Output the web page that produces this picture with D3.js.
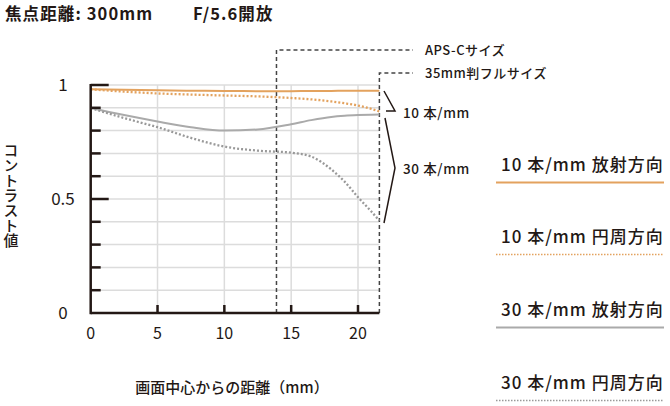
<!DOCTYPE html>
<html><head><meta charset="utf-8">
<script src="https://cdn.jsdelivr.net/npm/d3@7"></script>
<style>
html,body{margin:0;padding:0;background:#fff;}
text{font-family:"Noto Sans CJK JP","Noto Sans",sans-serif;fill:#231815;}
</style></head>
<body>
<svg id="c" width="670" height="406"></svg>
<script>
// ---- data ----
const xs   = [0, 2.5, 5, 7.5, 10, 12.5, 15, 16.5, 18, 19, 20, 21, 21.6];
const r10  = [0.981, 0.979, 0.977, 0.975, 0.974, 0.973, 0.973, 0.974, 0.974, 0.975, 0.975, 0.975, 0.975];
const t10  = [0.981, 0.971, 0.963, 0.958, 0.954, 0.950, 0.943, 0.937, 0.928, 0.920, 0.910, 0.895, 0.884];
const r30  = [0.899, 0.868, 0.840, 0.815, 0.800, 0.805, 0.828, 0.846, 0.860, 0.865, 0.868, 0.870, 0.871];
const t30  = [0.899, 0.855, 0.815, 0.768, 0.730, 0.712, 0.703, 0.686, 0.630, 0.576, 0.508, 0.445, 0.405];
const xTicks = [0, 5, 10, 15, 20];
const yMajor = [0, 0.5, 1];
const yMinor = [0.1, 0.2, 0.3, 0.4, 0.6, 0.7, 0.8, 0.9];
const yLabels = ["0", "0.5", "1"];
const apsc = 13.9, fullFrame = 21.6, xMax = 21.6;
const seriesNames = ["10 本/mm 放射方向", "10 本/mm 円周方向", "30 本/mm 放射方向", "30 本/mm 円周方向"];
const title1 = "焦点距離: 300mm", title2 = "F/5.6開放";

// ---- styles ----
const ORANGE = "#e3a25e", GRAY = "#aaaaaa", GRAYD = "#999999", DARK = "#231815";
const styles = [
  {c: ORANGE, w: 2, dash: null},
  {c: ORANGE, w: 2.3, dash: "2 2"},
  {c: GRAY, w: 2, dash: null},
  {c: GRAYD, w: 2.3, dash: "2 2"}
];

const svg = d3.select("#c");
const x = d3.scaleLinear().domain([0, 20]).range([90.7, 358]);
const y = d3.scaleLinear().domain([0, 1]).range([313, 85]);

// grid
const g = svg.append("g");
g.selectAll(".hg").data(yMinor.concat([0.5, 1])).join("line")
  .attr("x1", x(0)).attr("x2", x(xMax)).attr("y1", d => y(d)).attr("y2", d => y(d))
  .attr("stroke", "#dcdcdc").attr("stroke-width", 1.5);
g.selectAll(".vg").data(xTicks.filter(d => d > 0)).join("line")
  .attr("x1", d => x(d)).attr("x2", d => x(d)).attr("y1", y(0)).attr("y2", y(1))
  .attr("stroke", "#dcdcdc").attr("stroke-width", 1.5);

// callout dashed lines
const dash = svg.append("g").attr("stroke", "#444").attr("stroke-width", 1.5).attr("stroke-dasharray", "4 3").attr("fill", "none");
dash.append("path").attr("d", `M${x(apsc)},${y(0)}V50H413`);
dash.append("path").attr("d", `M${x(fullFrame)},${y(0)}V73H413`);
svg.append("text").attr("x", 425).attr("y", 55).attr("font-size", 13).attr("font-weight", 500).attr("letter-spacing", 0.5).text("APS-Cサイズ");
svg.append("text").attr("x", 425).attr("y", 78).attr("font-size", 13).attr("font-weight", 500).attr("letter-spacing", 0.5).text("35mm判フルサイズ");

// curves
const line = d3.line().x(d => x(d[0])).y(d => y(d[1])).curve(d3.curveMonotoneX);
const allSeries = [r10, t10, r30, t30];
allSeries.forEach((s, i) => {
  svg.append("path").datum(xs.map((xv, j) => [xv, s[j]]))
    .attr("d", line).attr("fill", "none")
    .attr("stroke", styles[i].c).attr("stroke-width", styles[i].w)
    .attr("stroke-dasharray", styles[i].dash);
});

// axes
svg.append("line").attr("x1", x(0)).attr("x2", x(xMax)).attr("y1", y(0)).attr("y2", y(0)).attr("stroke", DARK).attr("stroke-width", 2.5);
svg.append("line").attr("x1", x(0)).attr("x2", x(0)).attr("y1", y(0) + 1.2).attr("y2", y(1) - 1).attr("stroke", DARK).attr("stroke-width", 2.5);
svg.selectAll(".ymaj").data([0.5, 1]).join("line")
  .attr("x1", x(0)).attr("x2", x(0) + 18).attr("y1", d => y(d)).attr("y2", d => y(d)).attr("stroke", DARK).attr("stroke-width", 2.5);
svg.selectAll(".ymin").data(yMinor).join("line")
  .attr("x1", x(0)).attr("x2", x(0) + 10).attr("y1", d => y(d)).attr("y2", d => y(d)).attr("stroke", DARK).attr("stroke-width", 2.5);
svg.selectAll(".xt").data(xTicks.filter(d => d > 0)).join("line")
  .attr("x1", d => x(d)).attr("x2", d => x(d)).attr("y1", y(0)).attr("y2", y(0) - 8).attr("stroke", DARK).attr("stroke-width", 2.5);

svg.selectAll(".xl").data(xTicks).join("text")
  .attr("x", d => x(d)).attr("y", 339).attr("text-anchor", "middle").attr("font-size", 16).text(d => d);
svg.selectAll(".yl").data(yMajor).join("text")
  .attr("x", 63).attr("y", d => y(d) + 6).attr("text-anchor", "middle").attr("font-size", 17).text((d, i) => yLabels[i]);

// axis titles
svg.append("text").attr("x", 232).attr("y", 393).attr("text-anchor", "middle").attr("font-size", 15).attr("font-weight", 500).text("画面中心からの距離（mm）");
svg.append("text").attr("transform", "translate(11,143)").attr("font-size", 15).attr("font-weight", 500)
  .style("writing-mode", "vertical-rl").style("text-orientation", "upright").text("コントラスト値");

// title
svg.append("text").attr("x", 5).attr("y", 20).attr("font-size", 16.5).attr("font-weight", "bold").attr("letter-spacing", 1.1).text(title1);
svg.append("text").attr("x", 193).attr("y", 20).attr("font-size", 16.5).attr("font-weight", "bold").attr("letter-spacing", 1.1).text(title2);

// brackets
const br = svg.append("g").attr("stroke", DARK).attr("stroke-width", 1.5).attr("fill", "none");
br.append("path").attr("d", "M384,91L395,111H386");
br.append("path").attr("d", "M385,118L395,168L384,223");
svg.append("text").attr("x", 403).attr("y", 118).attr("font-size", 13.5).attr("font-weight", 500).attr("letter-spacing", 0.6).text("10 本/mm");
svg.append("text").attr("x", 403).attr("y", 174).attr("font-size", 13.5).attr("font-weight", 500).attr("letter-spacing", 0.6).text("30 本/mm");

// legend
const legY = [171, 243, 316, 389];
const lg = svg.selectAll(".lg").data(seriesNames).join("g");
lg.append("text").attr("x", 501).attr("y", (d, i) => legY[i]).attr("font-size", 17).attr("font-weight", 500).attr("letter-spacing", 1).text(d => d);
lg.append("line").attr("x1", 496).attr("x2", 664)
  .attr("y1", (d, i) => legY[i] + 11.5).attr("y2", (d, i) => legY[i] + 11.5)
  .attr("stroke", (d, i) => styles[i].c).attr("stroke-width", (d, i) => styles[i].dash ? 1.5 : 2)
  .attr("stroke-dasharray", (d, i) => styles[i].dash ? "1.5 1.5" : null);
</script>
</body></html>
